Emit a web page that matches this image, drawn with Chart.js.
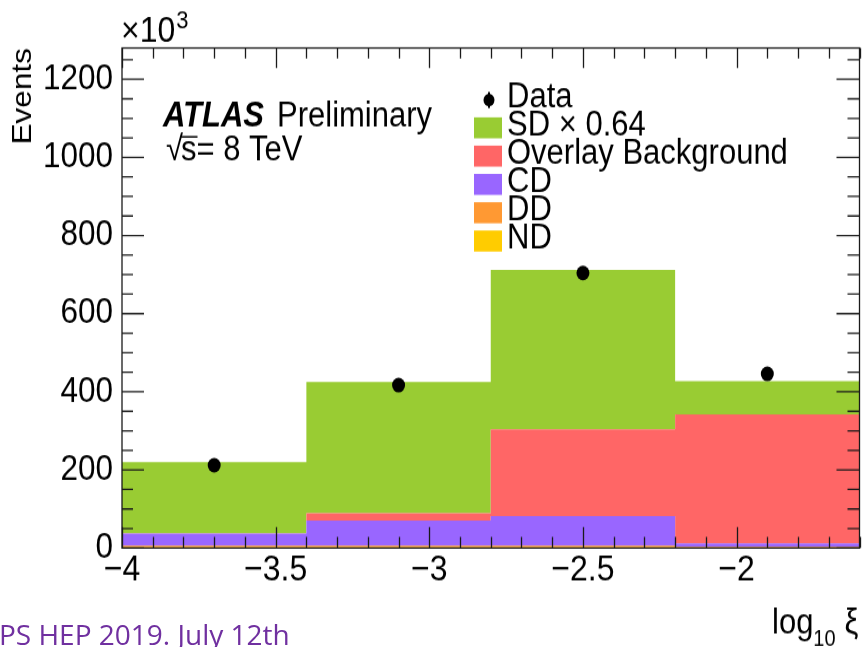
<!DOCTYPE html>
<html>
<head>
<meta charset="utf-8">
<script src="https://cdn.jsdelivr.net/npm/chart.js@4.4.1/dist/chart.umd.min.js"></script>
<style>
  html, body { margin: 0; padding: 0; background: #fff; overflow: hidden; }
  #wrap { position: relative; width: 866px; height: 647px; overflow: hidden; }
  /* the original plot image is stretched vertically on the slide */
  #c { position: absolute; left: 0; top: 0; transform-origin: 0 0; }
  #foot { position: absolute; left: 0; top: 0; pointer-events: none; }
</style>
</head>
<body>
<div id="wrap">
  <canvas id="c" width="866" height="573"></canvas>
  <canvas id="foot" width="866" height="647"></canvas>
</div>
<script>
// bin edges of log10(xi) and stacked contributions (events / 1000)
const binEdges = [-4, -3.4, -2.8, -2.2, -1.6];
const binCentres = [-3.7, -3.1, -2.5, -1.9];
const ndVals = [2, 2, 2, 1];
const ddVals = [4, 4, 4, 2];
const cdVals = [31, 64, 76, 9];
const overlayVals = [1, 19, 222, 330];
const sdVals = [182, 336, 408, 85];
const dataVals = [212, 417, 704, 446];
const xTicks = [-4, -3.5, -3, -2.5, -2];
const yTicks = [0, 200, 400, 600, 800, 1000, 1200];

const FONT = '"Liberation Sans", Arial, sans-serif';
const H = 647;
const SY = H / 573;               // vertical stretch of the slide image
const cy = (v) => v / SY;         // screen y -> canvas y
document.getElementById('c').style.transform = `scaleY(${SY})`;

// histogram as stepped line: one point per left edge, last value repeated at right edge
const steps = (vals) => binEdges.map((x, i) => ({ x, y: vals[Math.min(i, vals.length - 1)] }));

const hist = (label, vals, color, fill) => ({
  label,
  data: steps(vals),
  stepped: true,
  borderWidth: 0,
  borderColor: color,
  backgroundColor: color,
  pointRadius: 0,
  pointHoverRadius: 0,
  fill,
  order: 1,
});

const datasets = [
  hist('ND', ndVals, '#ffcc00', 'origin'),
  hist('DD', ddVals, '#ff9933', '-1'),
  hist('CD', cdVals, '#9966ff', '-1'),
  hist('Overlay Background', overlayVals, '#ff6666', '-1'),
  hist('SD \u00d7 0.64', sdVals, '#99cc33', '-1'),
  {
    label: 'Data',
    data: binCentres.map((x, i) => ({ x, y: dataVals[i] })),
    showLine: false,
    stack: 'data',
    pointRadius: 6.5,
    pointHoverRadius: 6.5,
    pointBackgroundColor: '#000',
    pointBorderWidth: 0,
    order: 0,
  },
];

const fmt = (v) => (v < 0 ? '\u2212' : '') + Math.abs(v);

// ROOT style frame with inward ticks on all four sides, plus the text
const framePlugin = {
  id: 'rootFrame',
  afterDatasetsDraw(chart) {
    const { ctx, chartArea: a, scales: { x, y } } = chart;
    ctx.save();
    ctx.strokeStyle = '#1a1a1a';
    ctx.lineWidth = 1.3;
    ctx.strokeRect(a.left, a.top, a.right - a.left, a.bottom - a.top);
    ctx.beginPath();
    for (let k = Math.ceil(x.min * 10 - 1e-6); k <= Math.floor(x.max * 10 + 1e-6); k++) {
      const px = Math.round(x.getPixelForValue(k / 10)) + 0.5;
      const len = cy(k % 5 === 0 ? 21 : 11);
      ctx.moveTo(px, a.bottom); ctx.lineTo(px, a.bottom - len);
      ctx.moveTo(px, a.top); ctx.lineTo(px, a.top + len * 0.95);
    }
    for (let k = 0; k * 50 <= y.max; k++) {
      const py = y.getPixelForValue(k * 50);
      const len = k % 4 === 0 ? 22 : 11;
      ctx.moveTo(a.left, py); ctx.lineTo(a.left + len, py);
      ctx.moveTo(a.right, py); ctx.lineTo(a.right - len - 1, py);
    }
    ctx.stroke();
    ctx.restore();
  },
  afterDraw(chart) {
    const { ctx, chartArea: a } = chart;
    ctx.save();
    ctx.fillStyle = '#000';
    ctx.textBaseline = 'alphabetic';

    // x10^3
    ctx.font = '32px ' + FONT;
    ctx.fillText('\u00d710', a.left - 1, cy(42));
    const w10 = ctx.measureText('\u00d710').width;
    ctx.font = '22px ' + FONT;
    ctx.fillText('3', a.left + w10, cy(28));

    // y title
    ctx.save();
    ctx.translate(23, a.top);
    ctx.rotate(-Math.PI / 2);
    ctx.font = '28px ' + FONT;
    ctx.textAlign = 'right';
    ctx.textBaseline = 'middle';
    ctx.fillText('Events', 0, 0);
    ctx.restore();

    // x title: log10 xi, right aligned to axis end
    ctx.font = '31px ' + FONT;
    const wLog = ctx.measureText('log').width;
    const wXi = ctx.measureText('\u03be').width;
    ctx.font = '20px ' + FONT;
    const wSub = ctx.measureText('10').width;
    const tx = a.right - 1 - wXi - 9 - wSub - wLog;
    ctx.font = '31px ' + FONT;
    ctx.fillText('log', tx, cy(634));
    ctx.font = '20px ' + FONT;
    ctx.fillText('10', tx + wLog, cy(646));
    ctx.font = '31px ' + FONT;
    ctx.fillText('\u03be', tx + wLog + wSub + 9, cy(634));

    // ATLAS label
    ctx.font = 'italic bold 31px ' + FONT;
    ctx.fillText('ATLAS', 163, cy(127));
    ctx.font = '31px ' + FONT;
    ctx.fillText('Preliminary', 277, cy(127));
    ctx.fillText('\u221a', 166, cy(160));
    const wRoot = ctx.measureText('\u221a').width;
    ctx.fillText('s= 8 TeV', 166 + wRoot - 2, cy(160));
    const wS = ctx.measureText('s').width;
    ctx.fillRect(166 + wRoot - 3, cy(136), wS + 2, 1.5);

    // legend
    const rows = [datasets[5], datasets[4], datasets[3], datasets[2], datasets[1], datasets[0]];
    ctx.font = '31px ' + FONT;
    rows.forEach((ds, i) => {
      const base = cy(107 + i * 28.3);
      if (ds.label === 'Data') {
        ctx.beginPath();
        ctx.arc(489, base - cy(7), 5.5, 0, Math.PI * 2);
        ctx.fill();
        ctx.fillRect(488, base - cy(15), 2, cy(16));
      } else {
        ctx.fillStyle = ds.backgroundColor;
        ctx.fillRect(474, base - cy(18), 28, cy(21));
        ctx.fillStyle = '#000';
      }
      ctx.fillText(ds.label, 507, base);
    });
    ctx.restore();
  },
};

new Chart(document.getElementById('c'), {
  type: 'line',
  data: { datasets },
  options: {
    responsive: false,
    animation: false,
    layout: { padding: { top: cy(48), right: 5, left: 0, bottom: 0 } },
    plugins: { legend: { display: false }, tooltip: { enabled: false } },
    scales: {
      x: {
        type: 'linear',
        min: binEdges[0],
        max: binEdges[binEdges.length - 1],
        grid: { display: false, drawTicks: false },
        border: { display: false },
        afterFit: (s) => { s.height = 573 - cy(548); },
        afterBuildTicks: (s) => { s.ticks = xTicks.map((v) => ({ value: v })); },
        ticks: {
          autoSkip: false,
          maxRotation: 0,
          padding: 1,
          color: '#000',
          font: { family: FONT, size: 32 },
          callback: (v) => fmt(v),
        },
      },
      y: {
        min: 0,
        max: 1280,
        stacked: true,
        grid: { display: false, drawTicks: false },
        border: { display: false },
        afterFit: (s) => { s.width = 122; },
        afterBuildTicks: (s) => { s.ticks = yTicks.map((v) => ({ value: v })); },
        ticks: {
          padding: 9,
          color: '#000',
          font: { family: FONT, size: 31.5 },
          callback: (v) => String(v),
        },
      },
    },
  },
  plugins: [framePlugin],
});

// slide footer, not part of the stretched plot image (clipped at left)
const fctx = document.getElementById('foot').getContext('2d');
fctx.font = '28px "Open Sans", sans-serif';
fctx.fillStyle = '#7030a0';
const wE = fctx.measureText('E').width;
fctx.fillText('EPS HEP 2019. July 12th', -wE - 1, 645);
</script>
</body>
</html>
